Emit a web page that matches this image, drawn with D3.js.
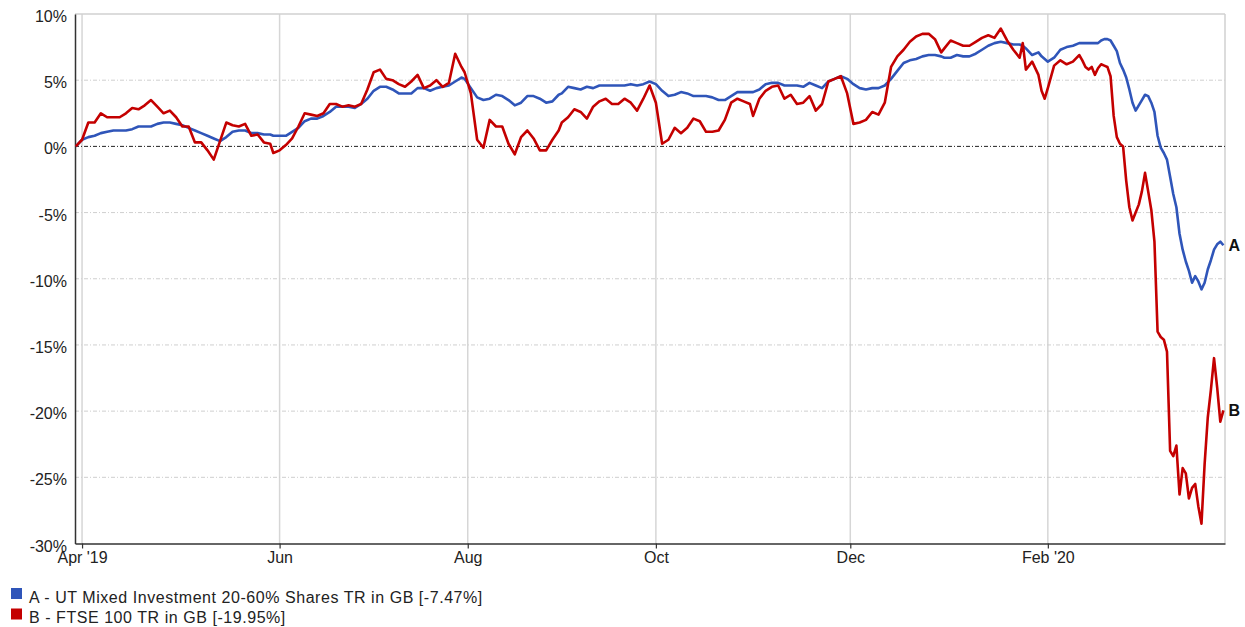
<!DOCTYPE html>
<html><head><meta charset="utf-8">
<script src="https://cdn.jsdelivr.net/npm/d3@7"></script>
<style>
body{margin:0;background:#fff;}
svg{display:block;font-family:"Liberation Sans",Arial,sans-serif;}
</style>
</head><body>
<svg id="chart" width="1245" height="627"></svg>
<script>
const dates = [
"2019-03-30","2019-04-01","2019-04-03","2019-04-05","2019-04-07","2019-04-09","2019-04-11","2019-04-13","2019-04-15","2019-04-17","2019-04-19","2019-04-21","2019-04-23","2019-04-25","2019-04-27","2019-04-29",
"2019-05-01","2019-05-03","2019-05-05","2019-05-07","2019-05-09","2019-05-11","2019-05-13","2019-05-15","2019-05-17","2019-05-19","2019-05-21","2019-05-23","2019-05-25","2019-05-27","2019-05-29","2019-05-31",
"2019-06-01","2019-06-03","2019-06-05","2019-06-07","2019-06-09","2019-06-11","2019-06-13","2019-06-15","2019-06-17","2019-06-19","2019-06-21","2019-06-23","2019-06-25","2019-06-27","2019-06-29",
"2019-07-01","2019-07-03","2019-07-05","2019-07-07","2019-07-09","2019-07-11","2019-07-13","2019-07-15","2019-07-17","2019-07-19","2019-07-21","2019-07-23","2019-07-25","2019-07-27","2019-07-29","2019-07-31",
"2019-08-01","2019-08-03","2019-08-05","2019-08-07","2019-08-09","2019-08-11","2019-08-13","2019-08-15","2019-08-17","2019-08-19","2019-08-21","2019-08-23","2019-08-25","2019-08-27","2019-08-29","2019-08-31",
"2019-09-01","2019-09-03","2019-09-05","2019-09-07","2019-09-09","2019-09-11","2019-09-13","2019-09-15","2019-09-17","2019-09-19","2019-09-21","2019-09-23","2019-09-25","2019-09-27","2019-09-29",
"2019-10-01","2019-10-03","2019-10-05","2019-10-07","2019-10-09","2019-10-11","2019-10-13","2019-10-15","2019-10-17","2019-10-19","2019-10-21","2019-10-23","2019-10-25","2019-10-27","2019-10-29","2019-10-31",
"2019-11-01","2019-11-03","2019-11-05","2019-11-07","2019-11-09","2019-11-11","2019-11-13","2019-11-15","2019-11-17","2019-11-19","2019-11-21","2019-11-23","2019-11-25","2019-11-27","2019-11-29",
"2019-12-01","2019-12-03","2019-12-05","2019-12-07","2019-12-09","2019-12-11","2019-12-13","2019-12-15","2019-12-17","2019-12-19","2019-12-21","2019-12-23","2019-12-25","2019-12-27","2019-12-29","2019-12-31",
"2020-01-01","2020-01-03","2020-01-05","2020-01-07","2020-01-09","2020-01-11","2020-01-13","2020-01-15","2020-01-17","2020-01-19","2020-01-21","2020-01-23","2020-01-25","2020-01-26","2020-01-27","2020-01-29","2020-01-31",
"2020-02-01","2020-02-02","2020-02-03","2020-02-05","2020-02-07","2020-02-09","2020-02-11","2020-02-13","2020-02-14","2020-02-15","2020-02-16","2020-02-17","2020-02-18","2020-02-19","2020-02-20","2020-02-21","2020-02-22","2020-02-23","2020-02-24","2020-02-25","2020-02-26","2020-02-27","2020-02-28","2020-02-29",
"2020-03-01","2020-03-02","2020-03-03","2020-03-04","2020-03-05","2020-03-06","2020-03-07","2020-03-08","2020-03-09","2020-03-10","2020-03-11","2020-03-12","2020-03-13","2020-03-14","2020-03-15","2020-03-16","2020-03-17","2020-03-18","2020-03-19","2020-03-20","2020-03-21","2020-03-22","2020-03-23","2020-03-24","2020-03-25","2020-03-26","2020-03-27","2020-03-28","2020-03-29","2020-03-30"
];
const seriesA = [
0,0.5,0.7,0.8,1.0,1.1,1.2,1.2,1.2,1.3,1.5,1.5,1.5,1.7,1.8,1.8,
1.7,1.6,1.4,1.2,1.0,0.8,0.6,0.4,0.7,1.1,1.2,1.2,1.0,1.0,0.9,0.9,
0.8,0.8,0.8,1.1,1.4,1.9,2.1,2.1,2.3,2.6,3.0,3.0,3.0,2.9,3.2,
3.6,4.2,4.5,4.5,4.3,4.0,4.0,4.0,4.4,4.4,4.2,4.4,4.5,4.6,4.9,5.2,
5.1,4.4,3.7,3.5,3.6,3.9,3.8,3.5,3.1,3.3,3.8,3.8,3.6,3.3,3.4,3.9,
4.0,4.5,4.4,4.3,4.5,4.4,4.6,4.6,4.6,4.6,4.6,4.7,4.6,4.7,4.9,
4.7,4.2,3.8,3.9,4.1,4.0,3.8,3.8,3.8,3.7,3.5,3.5,3.8,4.1,4.1,4.1,
4.1,4.3,4.7,4.8,4.8,4.6,4.6,4.6,4.5,4.8,4.6,4.4,4.9,5.1,5.3,
5.1,4.7,4.4,4.3,4.4,4.4,4.6,5.1,5.7,6.3,6.5,6.6,6.8,6.9,6.9,6.8,
6.7,6.7,6.9,6.8,6.8,7.0,7.3,7.6,7.8,7.9,7.8,7.7,7.7,7.6,7.4,6.9,7.1,
6.8,6.6,6.4,6.7,7.3,7.5,7.6,7.8,7.8,7.8,7.8,7.8,7.8,7.8,8.0,8.1,8.1,8.0,7.6,7.2,6.3,5.8,5.2,4.3,
3.3,2.7,3.1,3.5,3.9,3.8,3.3,2.6,0.8,-0.1,-0.5,-1.0,-2.3,-3.6,-4.6,-6.6,-7.8,-8.7,-9.4,-10.3,-9.8,-10.2,-10.8,-10.3,-9.3,-8.6,-7.8,-7.4,-7.2,-7.47
];
const seriesB = [
0,0.5,1.8,1.8,2.5,2.2,2.2,2.2,2.5,2.9,2.8,3.1,3.5,3.0,2.5,2.7,
2.2,1.5,1.5,0.3,0.3,-0.3,-1.0,0.4,1.8,1.6,1.5,1.7,0.8,0.9,0.3,0.2,
-0.5,-0.3,0.1,0.6,1.5,2.5,2.4,2.3,2.5,3.2,3.2,3.0,3.1,3.0,3.2,
4.3,5.6,5.8,5.1,5.0,4.7,4.5,4.9,5.4,4.4,4.6,5.0,4.5,4.8,7.0,6.0,
5.6,4.0,0.5,-0.1,2.0,1.5,1.5,0.2,-0.6,0.7,1.2,0.6,-0.3,-0.3,0.5,1.2,
1.8,2.2,2.8,2.6,2.1,3.0,3.4,3.6,3.2,3.2,3.6,3.3,2.7,3.6,4.6,
3.3,0.2,0.5,1.4,1.0,1.4,2.1,1.9,1.1,1.1,1.2,2.0,3.3,3.6,3.4,3.2,
2.3,3.6,4.2,4.5,4.6,3.6,3.9,3.2,3.3,3.8,2.7,3.2,4.9,5.1,5.3,
4.0,1.7,1.8,2.0,2.6,2.4,3.3,6.0,6.8,7.3,7.9,8.3,8.5,8.5,8.1,7.1,
7.4,8.0,7.8,7.6,7.6,7.9,8.2,8.4,8.2,8.9,8.0,7.3,6.7,7.8,5.8,6.4,5.4,
4.2,3.6,4.4,6.1,6.5,6.2,6.4,6.9,6.5,6.0,5.8,6.0,5.4,5.9,6.2,6.1,6.0,5.3,2.3,0.7,0.2,0.0,-2.6,-4.6,
-5.6,-5.0,-4.4,-3.4,-2.0,-3.4,-4.8,-7.2,-14.0,-14.4,-14.6,-15.5,-23.0,-23.4,-22.6,-26.3,-24.3,-24.7,-26.6,-25.8,-25.5,-27.2,-28.5,-24.0,-20.5,-18.4,-16.0,-18.2,-20.8,-19.95
];
const yTicks = [10,5,0,-5,-10,-15,-20,-25,-30];
const xTickDates = ["2019-04-01","2019-06-03","2019-08-02","2019-10-01","2019-12-02","2020-02-03"];
const xTickLabels = ["Apr '19","Jun","Aug","Oct","Dec","Feb '20"];
const seriesKeys = ["A","B"];
const seriesNames = ["A - UT Mixed Investment 20-60% Shares TR in GB [-7.47%]","B - FTSE 100 TR in GB [-19.95%]"];
const colors = ["#2f55b9","#c40000"];

const parse = d3.utcParse("%Y-%m-%d");
const svg = d3.select("#chart");
const L = 75, R = 1225, T = 14, B = 543.5;
const x = d3.scaleUtc()
  .domain([new Date(Date.UTC(2019,2,29,18)), new Date(Date.UTC(2020,2,30,12))])
  .range([L, R]);
const y = d3.scaleLinear().domain([-30, 10]).range([B, T]);

const tickDates = xTickDates.map(parse);

// vertical grid
svg.append("g").selectAll("line").data(tickDates).join("line")
  .attr("x1", d => x(d)).attr("x2", d => x(d))
  .attr("y1", T).attr("y2", B)
  .attr("stroke", "#d6d6d6").attr("stroke-width", 1.5);

// horizontal grid
svg.append("g").selectAll("line").data(yTicks.filter(v => v !== 10 && v !== -30 && v !== 0)).join("line")
  .attr("x1", L).attr("x2", R)
  .attr("y1", d => y(d)).attr("y2", d => y(d))
  .attr("stroke", "#cfcfcf").attr("stroke-width", 1)
  .attr("stroke-dasharray", "4,2,1,2");

// top & right frame
svg.append("line").attr("x1", L).attr("x2", R).attr("y1", y(10)).attr("y2", y(10))
  .attr("stroke", "#d0d0d0").attr("stroke-width", 1.5);
svg.append("line").attr("x1", R).attr("x2", R).attr("y1", T).attr("y2", B)
  .attr("stroke", "#d0d0d0").attr("stroke-width", 1.5);

// zero line
svg.append("line").attr("x1", L).attr("x2", R).attr("y1", y(0)).attr("y2", y(0))
  .attr("stroke", "#222").attr("stroke-width", 1)
  .attr("stroke-dasharray", "4,2,1,2");

// axes
const yAxis = d3.axisLeft(y).tickValues(yTicks).tickSize(0).tickPadding(8).tickFormat(d => d + "%");
const gy = svg.append("g").attr("transform", `translate(${L},0)`).call(yAxis);
gy.select(".domain").attr("stroke", "#333").attr("stroke-width", 1.5);
gy.selectAll("text").attr("font-size", 16).attr("fill", "#222").attr("dy", "0.47em")
  .style("font-family", '"Liberation Sans",Arial,sans-serif');

const xAxis = d3.axisBottom(x).tickValues(tickDates).tickSize(5).tickPadding(3)
  .tickFormat((d, i) => xTickLabels[i]).tickSizeOuter(0);
const gx = svg.append("g").attr("transform", `translate(0,${B})`).call(xAxis);
gx.select(".domain").attr("stroke", "#333").attr("stroke-width", 1.5);
gx.selectAll(".tick line").attr("stroke", "#333").attr("stroke-width", 1.2);
gx.selectAll("text").attr("font-size", 16).attr("fill", "#222")
  .style("font-family", '"Liberation Sans",Arial,sans-serif');

// lines
const series = [seriesA, seriesB].map((vals, k) => ({
  key: seriesKeys[k], name: seriesNames[k], color: colors[k],
  points: vals.map((v, i) => ({ date: parse(dates[i]), v }))
}));
const line = d3.line().x(d => x(d.date)).y(d => y(d.v));
svg.append("g").selectAll("path").data(series).join("path")
  .attr("d", d => line(d.points))
  .attr("fill", "none").attr("stroke", d => d.color)
  .attr("stroke-width", 2.6).attr("stroke-linejoin", "round");

// end labels
svg.append("g").selectAll("text").data(series).join("text")
  .attr("x", d => x(d.points[d.points.length - 1].date) + 5)
  .attr("y", d => y(d.points[d.points.length - 1].v) + 6)
  .attr("font-size", 16).attr("font-weight", "bold").attr("fill", "#111")
  .text(d => d.key);

// legend
const lg = svg.append("g").selectAll("g").data(series).join("g")
  .attr("transform", (d, i) => `translate(11,${588 + i * 20.5})`);
lg.append("rect").attr("width", 11).attr("height", 11).attr("fill", d => d.color);
lg.append("text").attr("x", 18).attr("y", 14.5).attr("font-size", 16).attr("fill", "#222")
  .attr("letter-spacing", "0.55px")
  .text(d => d.name);
</script>
</body></html>
